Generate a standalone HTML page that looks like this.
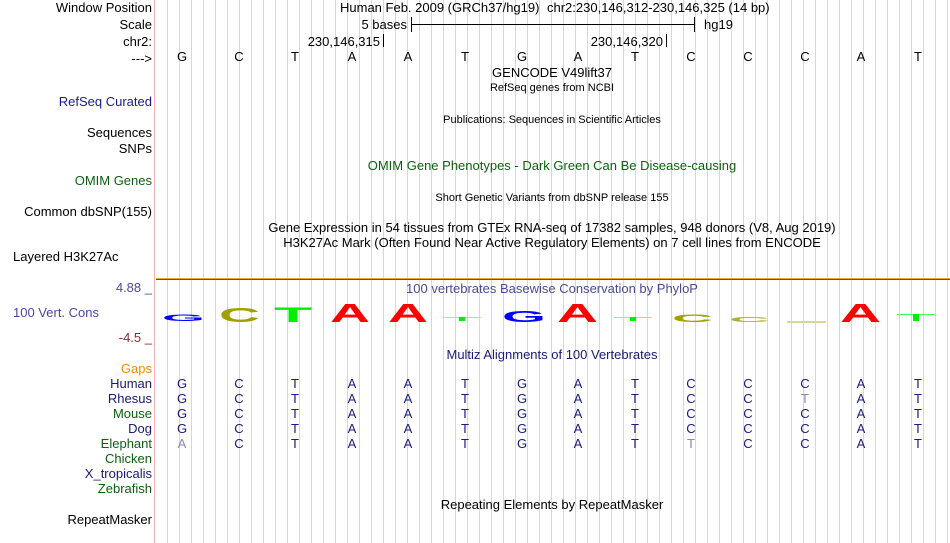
<!DOCTYPE html>
<html><head><meta charset="utf-8"><style>
html,body{margin:0;padding:0;background:#fff;}
svg{display:block;font-family:"Liberation Sans",sans-serif;}
</style></head><body>
<svg width="950" height="543" viewBox="0 0 950 543" xmlns="http://www.w3.org/2000/svg">
<defs>
<pattern id="grid" x="167" y="0" width="12" height="543" patternUnits="userSpaceOnUse">
<rect x="0" y="0" width="1" height="543" fill="#d6d2f4"/>
</pattern>
</defs>
<rect x="156" y="0" width="794" height="543" fill="url(#grid)"/>
<rect x="154" y="0" width="1" height="543" fill="#f4b0b0"/>
<rect x="156" y="278" width="794" height="1" fill="#e8a830"/>
<rect x="156" y="279" width="794" height="1" fill="#705030"/>

<g font-size="13" text-anchor="end" fill="#000">
<text x="152" y="12">Window Position</text>
<text x="152" y="29">Scale</text>
<text x="152" y="46">chr2:</text>
<text x="152" y="63">---&gt;</text>
<text x="152" y="106" fill="#1a1a8c">RefSeq Curated</text>
<text x="152" y="137">Sequences</text>
<text x="152" y="153">SNPs</text>
<text x="152" y="185" fill="#0d6010">OMIM Genes</text>
<text x="152" y="216">Common dbSNP(155)</text>
<text x="152" y="292" fill="#4a4a9a">4.88 _</text>
<text x="152" y="342" fill="#8a2a2a">-4.5 _</text>
<text x="152" y="373" fill="#f08c00">Gaps</text>
<text x="152" y="388" fill="#1a1a70">Human</text>
<text x="152" y="403" fill="#1a1a70">Rhesus</text>
<text x="152" y="418" fill="#0d6010">Mouse</text>
<text x="152" y="433" fill="#1a1a70">Dog</text>
<text x="152" y="448" fill="#0d6010">Elephant</text>
<text x="152" y="463" fill="#0d6010">Chicken</text>
<text x="152" y="478" fill="#1a1a70">X_tropicalis</text>
<text x="152" y="493" fill="#0d6010">Zebrafish</text>
<text x="152" y="524">RepeatMasker</text>
</g>
<text x="13" y="261" font-size="13">Layered H3K27Ac</text>
<text x="13" y="317" font-size="13" fill="#4a4a9a">100 Vert. Cons</text>

<g font-size="13" fill="#000">
<text x="340" y="12">Human Feb. 2009 (GRCh37/hg19)</text>
<text x="547" y="12">chr2:230,146,312-230,146,325 (14 bp)</text>
<text x="407" y="29" text-anchor="end">5 bases</text>
<text x="704" y="29">hg19</text>
<text x="380" y="46" text-anchor="end">230,146,315</text>
<text x="663" y="46" text-anchor="end">230,146,320</text>
</g>
<rect x="411" y="17" width="1" height="15" fill="#000"/>
<rect x="694" y="17" width="1" height="15" fill="#000"/>
<rect x="411" y="24" width="283" height="1" fill="#000"/>
<rect x="383" y="34" width="1" height="13" fill="#000"/>
<rect x="666" y="34" width="1" height="13" fill="#000"/>

<g font-size="13" text-anchor="middle" fill="#000">
<text x="182" y="61">G</text><text x="239" y="61">C</text><text x="295" y="61">T</text><text x="352" y="61">A</text><text x="408" y="61">A</text><text x="465" y="61">T</text><text x="522" y="61">G</text><text x="578" y="61">A</text><text x="635" y="61">T</text><text x="691" y="61">C</text><text x="748" y="61">C</text><text x="805" y="61">C</text><text x="861" y="61">A</text><text x="918" y="61">T</text>
</g>

<g text-anchor="middle">
<text x="552" y="77" font-size="13">GENCODE V49lift37</text>
<text x="552" y="91" font-size="11">RefSeq genes from NCBI</text>
<text x="552" y="123" font-size="11">Publications: Sequences in Scientific Articles</text>
<text x="552" y="170" font-size="13" fill="#0d6010">OMIM Gene Phenotypes - Dark Green Can Be Disease-causing</text>
<text x="552" y="201" font-size="11">Short Genetic Variants from dbSNP release 155</text>
<text x="552" y="232" font-size="13">Gene Expression in 54 tissues from GTEx RNA-seq of 17382 samples, 948 donors (V8, Aug 2019)</text>
<text x="552" y="247" font-size="13">H3K27Ac Mark (Often Found Near Active Regulatory Elements) on 7 cell lines from ENCODE</text>
<text x="552" y="293" font-size="13" fill="#4a4a9a">100 vertebrates Basewise Conservation by PhyloP</text>
<text x="552" y="359" font-size="13" fill="#1a1a70">Multiz Alignments of 100 Vertebrates</text>
<text x="552" y="509" font-size="13">Repeating Elements by RepeatMasker</text>
</g>

<!-- conservation logo -->
<g font-weight="bold">
<text x="162" y="321" font-size="9" textLength="43" lengthAdjust="spacingAndGlyphs" fill="#0000ff">G</text>
<text x="219" y="322" font-size="20" textLength="41" lengthAdjust="spacingAndGlyphs" fill="#a0a000">C</text>
<text x="274" y="322" font-size="21" textLength="38" lengthAdjust="spacingAndGlyphs" fill="#00ee00">T</text>
<text x="330" y="322" font-size="26" textLength="40" lengthAdjust="spacingAndGlyphs" fill="#ff0000">A</text>
<text x="388" y="322" font-size="26" textLength="40" lengthAdjust="spacingAndGlyphs" fill="#ff0000">A</text>
<text x="502" y="322" font-size="16" textLength="44" lengthAdjust="spacingAndGlyphs" fill="#0000ff">G</text>
<text x="557" y="322" font-size="26" textLength="41" lengthAdjust="spacingAndGlyphs" fill="#ff0000">A</text>
<text x="672" y="322" font-size="11" textLength="41" lengthAdjust="spacingAndGlyphs" fill="#a0a000">C</text>
<text x="729" y="322" font-size="7" textLength="41" lengthAdjust="spacingAndGlyphs" fill="#b0b030">C</text>
<text x="840" y="322" font-size="26" textLength="41" lengthAdjust="spacingAndGlyphs" fill="#ff0000">A</text>
</g>
<rect x="444" y="317" width="37" height="1" fill="#80ff80"/><rect x="459" y="317" width="6" height="4" fill="#00ee00"/>
<rect x="614" y="317" width="38" height="1" fill="#80ff80"/><rect x="630" y="317" width="6" height="4" fill="#00ee00"/>
<rect x="787" y="321" width="39" height="2" fill="#d8d890"/>
<rect x="897" y="314" width="38" height="1" fill="#40ff40"/><rect x="913" y="314" width="6" height="7" fill="#00ee00"/>

<!-- alignments -->
<g font-size="13" text-anchor="middle" fill="#1a1a80">
<g transform="translate(0,388)">
<text x="182">G</text><text x="239">C</text><text x="295">T</text><text x="352">A</text><text x="408">A</text><text x="465">T</text><text x="522">G</text><text x="578">A</text><text x="635">T</text><text x="691">C</text><text x="748">C</text><text x="805">C</text><text x="861">A</text><text x="918">T</text>
</g>
<g transform="translate(0,403)">
<text x="182">G</text><text x="239">C</text><text x="295">T</text><text x="352">A</text><text x="408">A</text><text x="465">T</text><text x="522">G</text><text x="578">A</text><text x="635">T</text><text x="691">C</text><text x="748">C</text><text x="805" fill="#8888b0">T</text><text x="861">A</text><text x="918">T</text>
</g>
<g transform="translate(0,418)">
<text x="182">G</text><text x="239">C</text><text x="295">T</text><text x="352">A</text><text x="408">A</text><text x="465">T</text><text x="522">G</text><text x="578">A</text><text x="635">T</text><text x="691">C</text><text x="748">C</text><text x="805">C</text><text x="861">A</text><text x="918">T</text>
</g>
<g transform="translate(0,433)">
<text x="182">G</text><text x="239">C</text><text x="295">T</text><text x="352">A</text><text x="408">A</text><text x="465">T</text><text x="522">G</text><text x="578">A</text><text x="635">T</text><text x="691">C</text><text x="748">C</text><text x="805">C</text><text x="861">A</text><text x="918">T</text>
</g>
<g transform="translate(0,448)">
<text x="182" fill="#8888b0">A</text><text x="239">C</text><text x="295">T</text><text x="352">A</text><text x="408">A</text><text x="465">T</text><text x="522">G</text><text x="578">A</text><text x="635">T</text><text x="691" fill="#8888b0">T</text><text x="748">C</text><text x="805">C</text><text x="861">A</text><text x="918">T</text>
</g>
</g>
</svg>
</body></html>
